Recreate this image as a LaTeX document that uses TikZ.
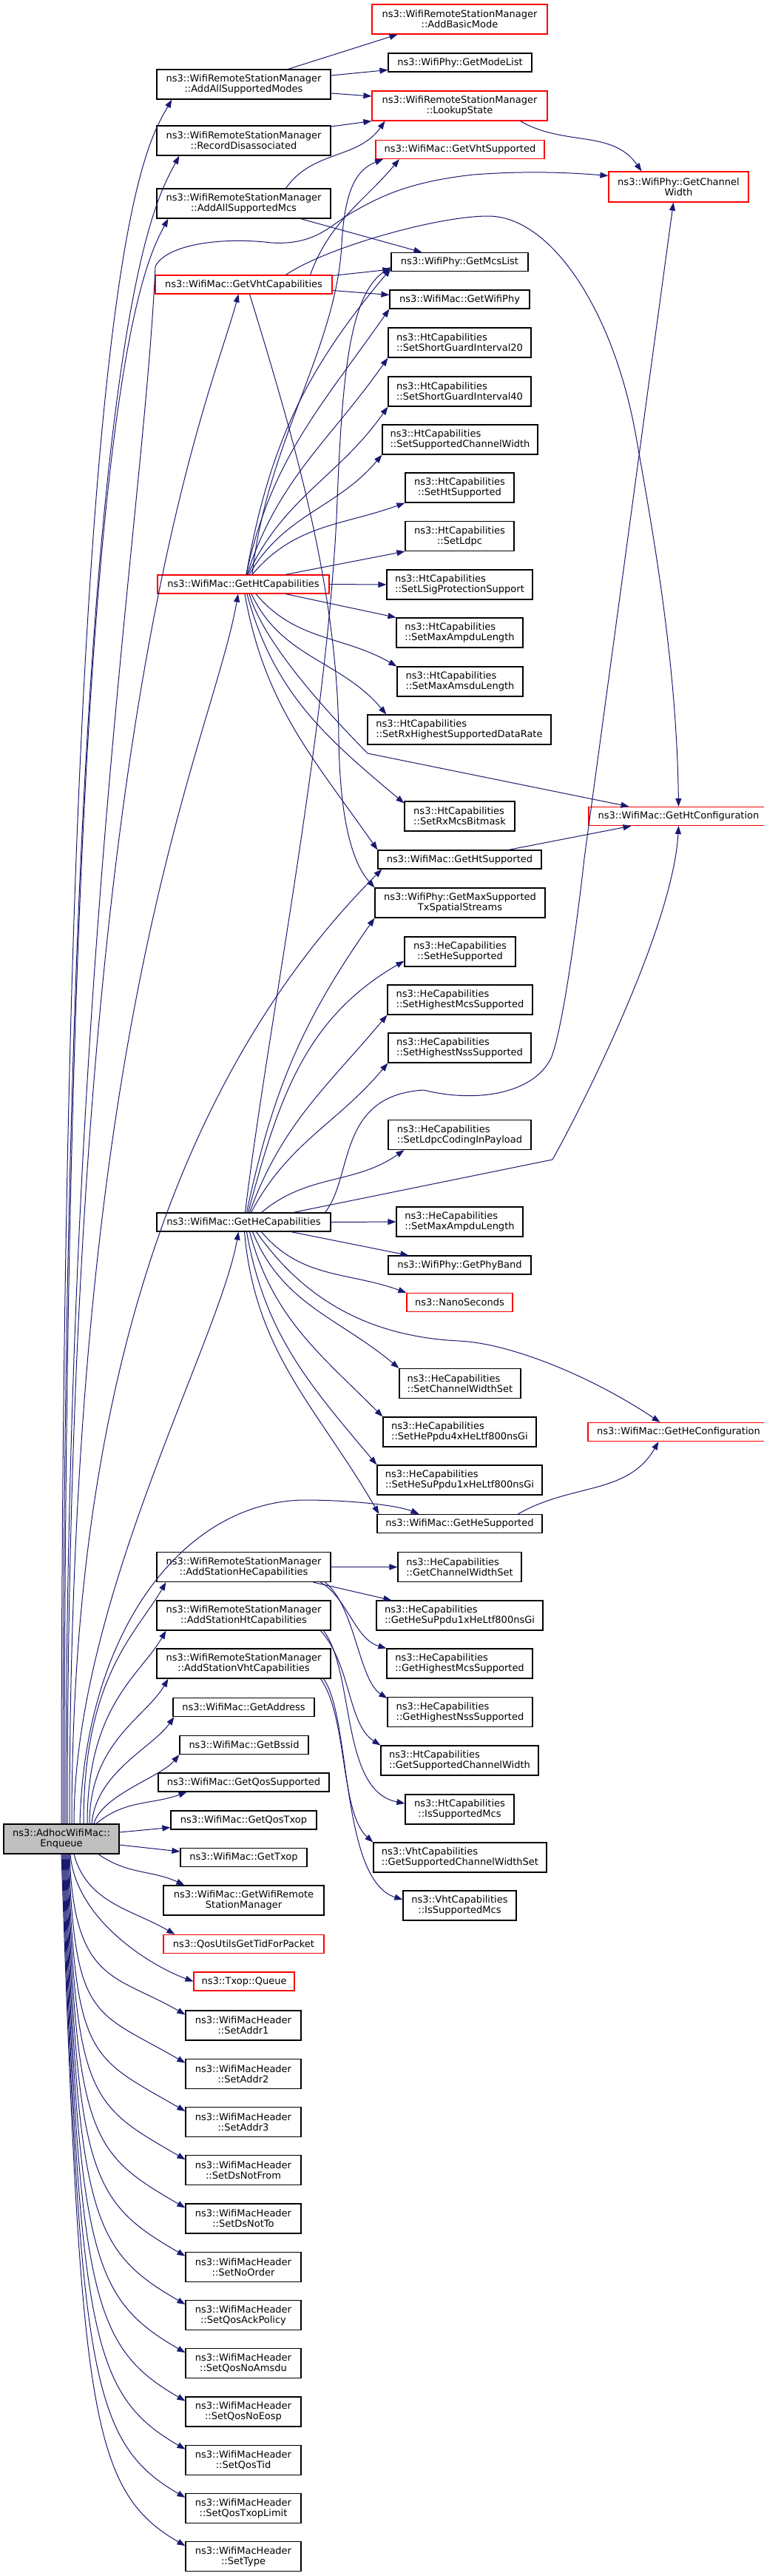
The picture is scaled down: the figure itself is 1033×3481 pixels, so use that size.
\documentclass[tikz,border=0pt]{standalone}
\usepackage{fontspec}
\setmainfont{DejaVu Sans}
\usetikzlibrary{arrows.meta,calc}
\definecolor{edgeblue}{RGB}{25,25,112}
\definecolor{rootgray}{RGB}{191,191,191}
\tikzset{
  fn/.style={draw=black, line width=1.2pt, fill=white, inner sep=0pt,
    minimum height=25pt, align=center, font=\fontsize{13}{14}\selectfont},
  fnn/.style={fn, minimum height=40pt},
  lft/.style={align=left},
  trunc/.style={draw=red},
  call/.style={draw=edgeblue, line width=1pt, -{Triangle[length=11pt,width=8pt]}},
}
\begin{document}
\begin{tikzpicture}[x=1pt, y=1pt]
\useasboundingbox (0,0) rectangle (1033,-3481);

% root
\node[fnn, fill=rootgray, minimum width=156pt] (enq) at (83,-2485) {ns3::AdhocWifiMac::\\Enqueue};

% second column
\node[fnn, minimum width=235pt] (addmodes) at (329.5,-114) {ns3::WifiRemoteStationManager\\::AddAllSupportedModes};
\node[fnn, minimum width=235pt] (recdis) at (329.5,-190) {ns3::WifiRemoteStationManager\\::RecordDisassociated};
\node[fnn, minimum width=235pt] (addmcs) at (329.5,-275) {ns3::WifiRemoteStationManager\\::AddAllSupportedMcs};
\node[fn, trunc, minimum width=239pt] (vhtcap) at (329.5,-384.5) {ns3::WifiMac::GetVhtCapabilities};
\node[fn, trunc, minimum width=232pt] (htcap) at (329,-789.5) {ns3::WifiMac::GetHtCapabilities};
\node[fn, minimum width=235pt] (hecap) at (329.5,-1651.5) {ns3::WifiMac::GetHeCapabilities};
\node[fnn, minimum width=235pt] (stahe) at (329.5,-2117.5) {ns3::WifiRemoteStationManager\\::AddStationHeCapabilities};
\node[fnn, minimum width=235pt] (staht) at (329.5,-2183) {ns3::WifiRemoteStationManager\\::AddStationHtCapabilities};
\node[fnn, minimum width=235pt] (stavht) at (329.5,-2248) {ns3::WifiRemoteStationManager\\::AddStationVhtCapabilities};
\node[fn, minimum width=191pt] (addr) at (329.5,-2307) {ns3::WifiMac::GetAddress};
\node[fn, minimum width=174pt] (bssid) at (330,-2358) {ns3::WifiMac::GetBssid};
\node[fn, minimum width=231pt] (qossup) at (329.5,-2408.5) {ns3::WifiMac::GetQosSupported};
\node[fn, minimum width=197pt] (qostxop) at (329.5,-2459.5) {ns3::WifiMac::GetQosTxop};
\node[fn, minimum width=171pt] (txop) at (329.5,-2510) {ns3::WifiMac::GetTxop};
\node[fnn, minimum width=217pt] (wrsm) at (329.5,-2568) {ns3::WifiMac::GetWifiRemote\\StationManager};
\node[fn, trunc, minimum width=217pt] (qosutils) at (329.5,-2627) {ns3::QosUtilsGetTidForPacket};
\node[fn, trunc, minimum width=136pt] (queue) at (330,-2677.5) {ns3::Txop::Queue};
\foreach \hname [count=\i from 0] in {SetAddr1,SetAddr2,SetAddr3,SetDsNotFrom,SetDsNotTo,SetNoOrder,SetQosAckPolicy,SetQosNoAmsdu,SetQosNoEosp,SetQosTid,SetQosTxopLimit,SetType}
  \node[fnn, minimum width=156pt] (h\i) at (329,{-2737-65.25*\i}) {ns3::WifiMacHeader\\::\hname};

% third column
\node[fnn, trunc, minimum width=237pt] (basic) at (621.5,-26) {ns3::WifiRemoteStationManager\\::AddBasicMode};
\node[fn, minimum width=194pt] (modelist) at (622,-84.5) {ns3::WifiPhy::GetModeList};
\node[fnn, trunc, minimum width=237pt] (lookup) at (621.5,-143) {ns3::WifiRemoteStationManager\\::LookupState};
\node[fn, trunc, minimum width=228pt] (vhtsup) at (622,-202) {ns3::WifiMac::GetVhtSupported};
\node[fn, minimum width=185pt] (mcslist) at (621.5,-354) {ns3::WifiPhy::GetMcsList};
\node[fn, minimum width=189pt] (wifiphy) at (621.5,-404.5) {ns3::WifiMac::GetWifiPhy};
\node[fnn, lft, minimum width=193pt] (sgi20) at (621.5,-463) {ns3::HtCapabilities\\::SetShortGuardInterval20};
\node[fnn, lft, minimum width=193pt] (sgi40) at (621.5,-529) {ns3::HtCapabilities\\::SetShortGuardInterval40};
\node[fnn, lft, minimum width=210pt] (scw) at (622,-594) {ns3::HtCapabilities\\::SetSupportedChannelWidth};
\node[fnn, minimum width=147pt] (htsup) at (621.5,-659) {ns3::HtCapabilities\\::SetHtSupported};
\node[fnn, minimum width=147pt] (ldpc) at (621.5,-724.5) {ns3::HtCapabilities\\::SetLdpc};
\node[fnn, lft, minimum width=197pt] (lsig) at (621.5,-790) {ns3::HtCapabilities\\::SetLSigProtectionSupport};
\node[fnn, lft, minimum width=171pt] (htampdu) at (621.5,-855) {ns3::HtCapabilities\\::SetMaxAmpduLength};
\node[fnn, lft, minimum width=170pt] (amsdu) at (622,-921) {ns3::HtCapabilities\\::SetMaxAmsduLength};
\node[fnn, lft, minimum width=248pt] (rxrate) at (621,-986) {ns3::HtCapabilities\\::SetRxHighestSupportedDataRate};
\node[fnn, lft, minimum width=149pt] (rxmcs) at (621.5,-1103) {ns3::HtCapabilities\\::SetRxMcsBitmask};
\node[fn, minimum width=221pt] (gethtsup) at (621.5,-1161.5) {ns3::WifiMac::GetHtSupported};
\node[fnn, minimum width=230pt] (maxnss) at (622,-1220) {ns3::WifiPhy::GetMaxSupported\\TxSpatialStreams};
\node[fnn, minimum width=150pt] (hesup) at (622,-1286) {ns3::HeCapabilities\\::SetHeSupported};
\node[fnn, lft, minimum width=196pt] (hemcs) at (622,-1351) {ns3::HeCapabilities\\::SetHighestMcsSupported};
\node[fnn, lft, minimum width=193pt] (henss) at (621.5,-1416) {ns3::HeCapabilities\\::SetHighestNssSupported};
\node[fnn, lft, minimum width=193pt] (heldpc) at (621.5,-1533.5) {ns3::HeCapabilities\\::SetLdpcCodingInPayload};
\node[fnn, lft, minimum width=171pt] (heampdu) at (621.5,-1651) {ns3::HeCapabilities\\::SetMaxAmpduLength};
\node[fn, minimum width=193pt] (phyband) at (621.5,-1709.5) {ns3::WifiPhy::GetPhyBand};
\node[fn, trunc, minimum width=143pt] (nano) at (621.5,-1760) {ns3::NanoSeconds};
\node[fnn, lft, minimum width=164pt] (cws) at (622,-1869.5) {ns3::HeCapabilities\\::SetChannelWidthSet};
\node[fnn, lft, minimum width=207pt] (ppdu4x) at (621.5,-1935) {ns3::HeCapabilities\\::SetHePpdu4xHeLtf800nsGi};
\node[fnn, lft, minimum width=223pt] (ppdu1x) at (621.5,-2000) {ns3::HeCapabilities\\::SetHeSuPpdu1xHeLtf800nsGi};
\node[fn, minimum width=223pt] (gethesup) at (621.5,-2059) {ns3::WifiMac::GetHeSupported};
\node[fnn, lft, minimum width=167pt] (getcws) at (621.5,-2117.5) {ns3::HeCapabilities\\::GetChannelWidthSet};
\node[fnn, lft, minimum width=225pt] (getppdu1x) at (621.5,-2183) {ns3::HeCapabilities\\::GetHeSuPpdu1xHeLtf800nsGi};
\node[fnn, lft, minimum width=197pt] (gethemcs) at (621.5,-2248) {ns3::HeCapabilities\\::GetHighestMcsSupported};
\node[fnn, lft, minimum width=196pt] (gethenss) at (622,-2313.5) {ns3::HeCapabilities\\::GetHighestNssSupported};
\node[fnn, lft, minimum width=213pt] (getscw) at (621.5,-2379) {ns3::HtCapabilities\\::GetSupportedChannelWidth};
\node[fnn, minimum width=147pt] (htismcs) at (621.5,-2445) {ns3::HtCapabilities\\::IsSupportedMcs};
\node[fnn, lft, minimum width=234pt] (vhtscws) at (622,-2510) {ns3::VhtCapabilities\\::GetSupportedChannelWidthSet};
\node[fnn, minimum width=153pt] (vhtismcs) at (621.5,-2575) {ns3::VhtCapabilities\\::IsSupportedMcs};

% fourth column
\node[fnn, trunc, minimum width=189pt, minimum height=41pt] (chwidth) at (917.5,-252.5) {ns3::WifiPhy::GetChannel\\Width};
\node[fn, trunc, minimum width=243pt] (htconf) at (917.5,-1103) {ns3::WifiMac::GetHtConfiguration};
\node[fn, trunc, minimum width=245pt] (heconf) at (917.5,-1935) {ns3::WifiMac::GetHeConfiguration};

% calls of Enqueue, upwards
\draw[call] (enq.north) .. controls +(0,2100) and ($(addmodes.south west)+(21,0)+(-120:80)$) .. ([xshift=21]addmodes.south west);
\draw[call] ([xshift=2]enq.north) .. controls +(0,2000) and ($(recdis.south west)+(31,0)+(-118:80)$) .. ([xshift=31]recdis.south west);
\draw[call] ([xshift=4]enq.north) .. controls +(0,1900) and ($(addmcs.south west)+(16,0)+(-118:80)$) .. ([xshift=16]addmcs.south west);
\draw[call] ([xshift=6]enq.north) .. controls (89,-1300) and (195,-700) .. (210,-360)
  .. controls (225,-330) and (300,-320) .. (367,-328) .. controls (430,-332) and (450,-300) .. (480,-285)
  .. controls (520,-262) and (560,-245) .. (640,-236) .. controls (720,-230) and (780,-234) .. ([yshift=15]chwidth.west);
\draw[call] ([xshift=8]enq.north) .. controls +(0,1500) and ($(vhtcap.south)+(-7,0)+(-105:150)$) .. ([xshift=-7]vhtcap.south);
\draw[call] ([xshift=11]enq.north) .. controls +(0,1100) and ($(htcap.south)+(-7,0)+(-100:200)$) .. ([xshift=-7]htcap.south);
\draw[call] ([xshift=14]enq.north) .. controls +(0,700) and ($(gethtsup.south west)+(6,0)+(-135:300)$) .. ([xshift=6]gethtsup.south west);
\draw[call] ([xshift=17]enq.north) .. controls +(0,300) and ($(hecap.south)+(-7,0)+(-100:150)$) .. ([xshift=-7]hecap.south);
\draw[call] ([xshift=25]enq.north) .. controls (115,-2200) and (250,-2030) .. (410,-2027)
  .. controls (480,-2027) and (540,-2035) .. ([xshift=-55]gethesup.north);
\draw[call] ([xshift=30]enq.north) .. controls +(0,200) and ($(stahe.south west)+(13,0)+(-120:80)$) .. ([xshift=13]stahe.south west);
\draw[call] ([xshift=35]enq.north) .. controls +(0,160) and ($(staht.south west)+(13,0)+(-120:70)$) .. ([xshift=13]staht.south west);
\draw[call] ([xshift=38]enq.north) .. controls +(0,110) and ($(stavht.south west)+(16,0)+(-120:60)$) .. ([xshift=16]stavht.south west);
\draw[call] ([xshift=41]enq.north) .. controls +(85:70) and ($(addr.south west)+(2,0)+(-125:50)$) .. ([xshift=2]addr.south west);
\draw[call] ([xshift=44]enq.north) .. controls +(75:40) and ($(bssid.south west)+(-130:40)$) .. (bssid.south west);
\draw[call] ([xshift=47]enq.north) to[out=40,in=-160] ([xshift=-77]qossup.south);
\draw[call] ([yshift=9]enq.east) -- ([yshift=-10]qostxop.west);
\draw[call] ([yshift=-8]enq.east) -- ([yshift=8]txop.west);

% calls of Enqueue, downwards
\draw[call] ([xshift=50]enq.south) to[out=-35,in=155] ([xshift=29]wrsm.north west);
\draw[call] ([xshift=17]enq.south) to[out=-75,in=150] ([xshift=16]qosutils.north west);
\draw[call] ([xshift=12]enq.south) .. controls +(-85:90) and ($(queue.west)+(160:60)$) .. (queue.west);
\foreach \i in {0,...,11}{
  \pgfmathsetmacro\dy{218+65.25*\i}
  \pgfmathsetmacro\od{0.8*\dy}
  \pgfmathsetmacro\id{min(150,0.5*\dy)}
  \pgfmathsetmacro\xs{11-\i}
  \draw[call] ([xshift=\xs pt]enq.south) .. controls +(-88:\od) and ($(h\i.north west)+(0,-6)+(150:\id)$) .. ([yshift=-6pt]h\i.north west);
}

% station manager calls
\draw[call] ([xshift=60]addmodes.north) -- ([xshift=-84]basic.south);
\draw[call] ([yshift=12]addmodes.east) -- ([yshift=-10]modelist.west);
\draw[call] ([yshift=-12]addmodes.east) -- ([yshift=13]lookup.west);
\draw[call] ([yshift=19]recdis.east) -- (lookup.south west);
\draw[call] ([xshift=57]addmcs.north) to[out=55,in=-125] ([xshift=-101]lookup.south);
\draw[call] ([xshift=77]addmcs.south) -- ([xshift=-51]mcslist.north);
\draw[call] ([xshift=82]lookup.south) to[out=-30,in=125] ([xshift=-50]chwidth.north);

% GetVhtCapabilities
\draw[call] ([xshift=90]vhtcap.north) to[out=70,in=-130] ([xshift=-82]vhtsup.south);
\draw[call] ([xshift=57]vhtcap.north) .. controls (440,-335) and (590,-292) .. (660,-292)
  .. controls (745,-292) and (830,-420) .. (860,-590) .. controls (885,-730) and (915,-900) .. (htconf.north);
\draw[call] ([yshift=12]vhtcap.east) -- ([yshift=-10]mcslist.west);
\draw[call] ([yshift=-8]vhtcap.east) -- ([yshift=6]wifiphy.west);
\draw[call] ([xshift=8]vhtcap.south) .. controls (400,-600) and (457,-800) .. (458,-1000)
  .. controls (460,-1120) and (480,-1170) .. (maxnss.north west);

% GetHtCapabilities
\draw[call] ([xshift=12]htcap.north) .. controls (360,-600) and (455,-470) .. (462,-330)
  .. controls (466,-260) and (480,-230) .. ([xshift=-104]vhtsup.south);
\draw[call] ([xshift=4]htcap.north) to[out=80,in=-130] ([yshift=-9]mcslist.west);
\draw[call] ([xshift=4]htcap.north) to[out=78,in=-125] (wifiphy.south west);
\draw[call] ([xshift=5]htcap.north) to[out=72,in=-125] (sgi20.south west);
\draw[call] ([xshift=6]htcap.north) to[out=65,in=-125] (sgi40.south west);
\draw[call] ([xshift=8]htcap.north) to[out=60,in=-130] (scw.south west);
\draw[call] ([xshift=12]htcap.north) to[out=50,in=-160] (htsup.south west);
\draw[call] ([xshift=57]htcap.north) -- (ldpc.south west);
\draw[call] (htcap.east) -- (lsig.west);
\draw[call] ([xshift=57]htcap.south) -- (htampdu.north west);
\draw[call] ([xshift=17]htcap.south) to[out=-50,in=150] (amsdu.north west);
\draw[call] ([xshift=11]htcap.south) to[out=-65,in=130] ([xshift=26]rxrate.north west);
\draw[call] ([xshift=8]htcap.south) .. controls (360,-880) and (470,-990) .. (497,-1018) -- ([xshift=-67]htconf.north);
\draw[call] ([xshift=5]htcap.south) to[out=-75,in=140] ([yshift=-3]rxmcs.north west);
\draw[call] ([xshift=2]htcap.south) to[out=-80,in=125] (gethtsup.north west);
\draw[call] ([xshift=66]gethtsup.north) -- ([xshift=-64]htconf.south);

% GetHeCapabilities
\draw[call] ([xshift=2]hecap.north) .. controls (360,-1400) and (440,-1000) .. (455,-700)
  .. controls (462,-520) and (470,-400) .. ([yshift=-7]mcslist.west);
\draw[call] ([xshift=110]hecap.north) .. controls (478,-1590) and (455,-1480) .. (573,-1473)
  .. controls (640,-1490) and (720,-1480) .. (745,-1430) .. controls (760,-1395) and (780,-1250) .. (790,-1160)
  -- ([xshift=-7]chwidth.south);
\draw[call] ([xshift=67]hecap.north) -- (747,-1567) .. controls (790,-1490) and (910,-1250) .. (htconf.south);
\draw[call] ([xshift=4]hecap.north) to[out=78,in=-125] (maxnss.south west);
\draw[call] ([xshift=6]hecap.north) to[out=75,in=-150] ([yshift=8]hesup.south west);
\draw[call] ([xshift=8]hecap.north) to[out=70,in=-130] (hemcs.south west);
\draw[call] ([xshift=10]hecap.north) to[out=62,in=-130] (henss.south west);
\draw[call] ([xshift=24]hecap.north) to[out=40,in=-145] ([xshift=22]heldpc.south west);
\draw[call] (hecap.east) -- (heampdu.west);
\draw[call] ([xshift=64]hecap.south) -- ([xshift=28]phyband.north west);
\draw[call] ([xshift=24]hecap.south) to[out=-50,in=160] (nano.north west);
\draw[call] ([xshift=17]hecap.south) .. controls (400,-1740) and (480,-1805) .. (620,-1812)
  .. controls (690,-1815) and (800,-1860) .. ([xshift=-25]heconf.north);
\draw[call] ([xshift=12]hecap.south) to[out=-68,in=140] (cws.north west);
\draw[call] ([xshift=8]hecap.south) to[out=-75,in=135] (ppdu4x.north west);
\draw[call] ([xshift=4]hecap.south) to[out=-80,in=130] (ppdu1x.north west);
\draw[call] ([xshift=1]hecap.south) to[out=-85,in=120] ([xshift=3]gethesup.north west);
\draw[call] ([xshift=79]gethesup.north) to[out=30,in=-120] ([xshift=-27]heconf.south);

% AddStation...Capabilities
\draw[call] (stahe.east) -- (getcws.west);
\draw[call] ([xshift=94]stahe.south) -- ([xshift=21]getppdu1x.north west);
\draw[call] ([xshift=104]stahe.south) .. controls (470,-2160) and (480,-2215) .. (gethemcs.north west);
\draw[call] ([xshift=110]stahe.south) .. controls (480,-2170) and (485,-2270) .. ([yshift=-2]gethenss.north west);
\draw[call] ([xshift=104]staht.south) .. controls (475,-2250) and (470,-2330) .. (getscw.north west);
\draw[call] ([xshift=108]staht.south) .. controls (480,-2260) and (460,-2420) .. ([yshift=8]htismcs.west);
\draw[call] ([xshift=104]stavht.south) .. controls (470,-2320) and (460,-2450) .. (vhtscws.north west);
\draw[call] ([xshift=108]stavht.south) .. controls (475,-2320) and (460,-2540) .. ([yshift=8]vhtismcs.west);
\end{tikzpicture}
\end{document}
